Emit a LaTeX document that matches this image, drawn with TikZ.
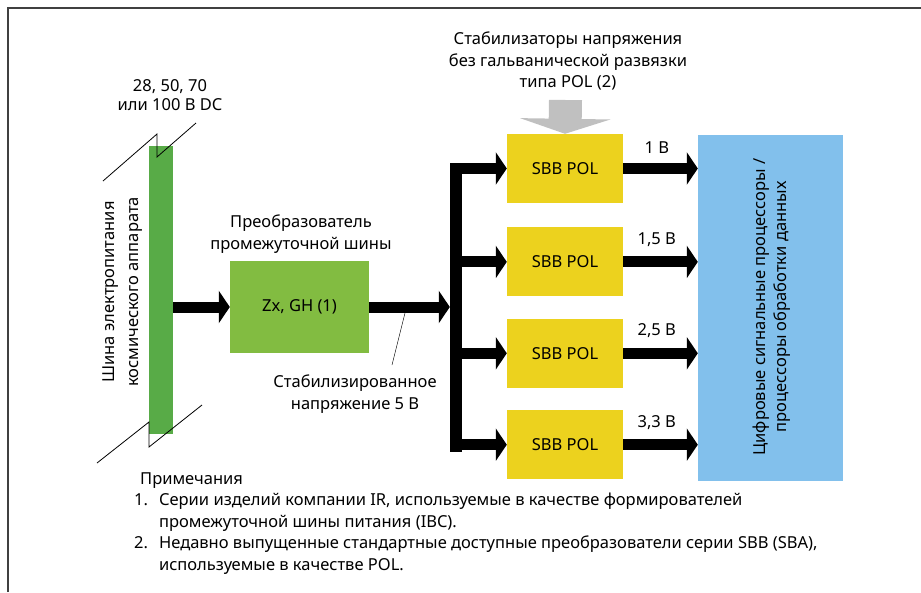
\documentclass[tikz,border=0pt]{standalone}
\usepackage{fontspec}
\setmainfont{Noto Sans}
\usetikzlibrary{arrows.meta,positioning}

\definecolor{framegray}{RGB}{64,64,64}
\definecolor{busgreen}{RGB}{88,171,71}
\definecolor{ibcgreen}{RGB}{130,188,65}
\definecolor{polyellow}{RGB}{236,210,30}
\definecolor{dspblue}{RGB}{130,192,236}
\definecolor{feedgray}{RGB}{192,192,192}

\begin{document}
\begin{tikzpicture}[
x=1pt, y=-1pt,
font=\fontsize{16.5}{21.5}\selectfont,
block/.style={draw=none, inner sep=0pt, align=center},
polbox/.style={block, fill=polyellow, minimum width=116pt, minimum height=69pt},
power/.style={line width=11pt, -{Triangle[length=11pt,width=32pt]}},
feed/.style={line width=33pt, feedgray, -{Triangle[length=15pt,width=90pt]}},
breakmark/.style={thick, line join=miter},
lbl/.style={inner sep=2pt}
]
    \useasboundingbox (0,0) rectangle (921,592);

    % frame
    \draw[framegray, line width=1.5pt] (8,592) -- (8,8) -- (921,8);

    % supply bus
    \node[block, fill=busgreen, minimum width=24pt, minimum height=288pt] (bus) at (161,290) {};
    \draw[breakmark] (103,181) -- (157,134) -- (157,157) -- (196,123);
    \draw[breakmark] (97,463) -- (149,422) -- (149,447) -- (202,405);
    \node[block, rotate=90, font=\fontsize{16.5}{24}\selectfont] (buslabel) at (123,292)
        {Шина электропитания\\космического аппарата};
    \node[block, font=\fontsize{16.5}{19.5}\selectfont] (vin) at (170,95) {28, 50, 70\\или 100 В DC};

    % intermediate bus converter
    \node[block, fill=ibcgreen, minimum width=139pt, minimum height=92pt] (ibc) at (299.5,307) {Zx, GH (1)};
    \node[block] (ibctitle) at (301,234) {Преобразователь\\промежуточной шины};

    % distribution rail
    \node[block, fill=black, minimum width=12pt, minimum height=289pt] (rail) at (456,307.5) {};

    % POL stabilisers
    \node[polbox] (pol1) at (565,168.5) {SBB POL};
    \node[polbox, below=24pt of pol1] (pol2) {SBB POL};
    \node[polbox, below=22pt of pol2] (pol3) {SBB POL};
    \node[polbox, below=22pt of pol3] (pol4) {SBB POL};
    \node[block] (poltitle) at (568,61) {Стабилизаторы напряжения\\без гальванической развязки\\типа POL (2)};
    \coordinate (feedtop) at (565.5,100);
    \draw[feed] (feedtop) -- (pol1.north);

    % processors
    \node[block, fill=dspblue, minimum width=145pt, minimum height=346pt] (dsp) at (770.5,308) {};
    \node[block, rotate=90] (dsplabel) at (771.5,307)
        {Цифровые сигнальные процессоры /\\процессоры обработки данных};

    % power flow
    \draw[power] (bus.east |- ibc.west) -- (ibc.west);
    \draw[power] (ibc.east) -- (rail.west |- ibc.east);
    \foreach \p in {pol1,pol2,pol3,pol4}
        \draw[power] (rail.center |- \p.west) -- (\p.west);
    \draw[power] (pol1.east) -- node[lbl, pos=0.45, above=8pt] {1 В} (dsp.west |- pol1.east);
    \draw[power] (pol2.east) -- node[lbl, pos=0.45, above=8pt] {1,5 В} (dsp.west |- pol2.east);
    \draw[power] (pol3.east) -- node[lbl, pos=0.45, above=8pt] {2,5 В} (dsp.west |- pol3.east);
    \draw[power] (pol4.east) -- node[lbl, pos=0.45, above=8pt] {3,3 В} (dsp.west |- pol4.east);

    % 5 V callout
    \node[block] (stab) at (355,394) {Стабилизированное\\напряжение 5 В};
    \coordinate (tap) at (405,313);
    \coordinate (lead) at (392,365);
    \draw (tap) -- (lead);

    % notes
    \node[block, anchor=north west, align=left] (notes) at (134,469) {%
    \begin{tabular}{@{}l@{\hspace{11pt}}l@{}}
    \multicolumn{2}{@{\hspace{6pt}}l@{}}{Примечания}\\
    1. & Серии изделий компании IR, используемые в качестве формирователей\\
       & промежуточной шины питания (IBC).\\
    2. & Недавно выпущенные стандартные доступные преобразователи серии SBB (SBA),\\
       & используемые в качестве POL.
    \end{tabular}};
\end{tikzpicture}
\end{document}
